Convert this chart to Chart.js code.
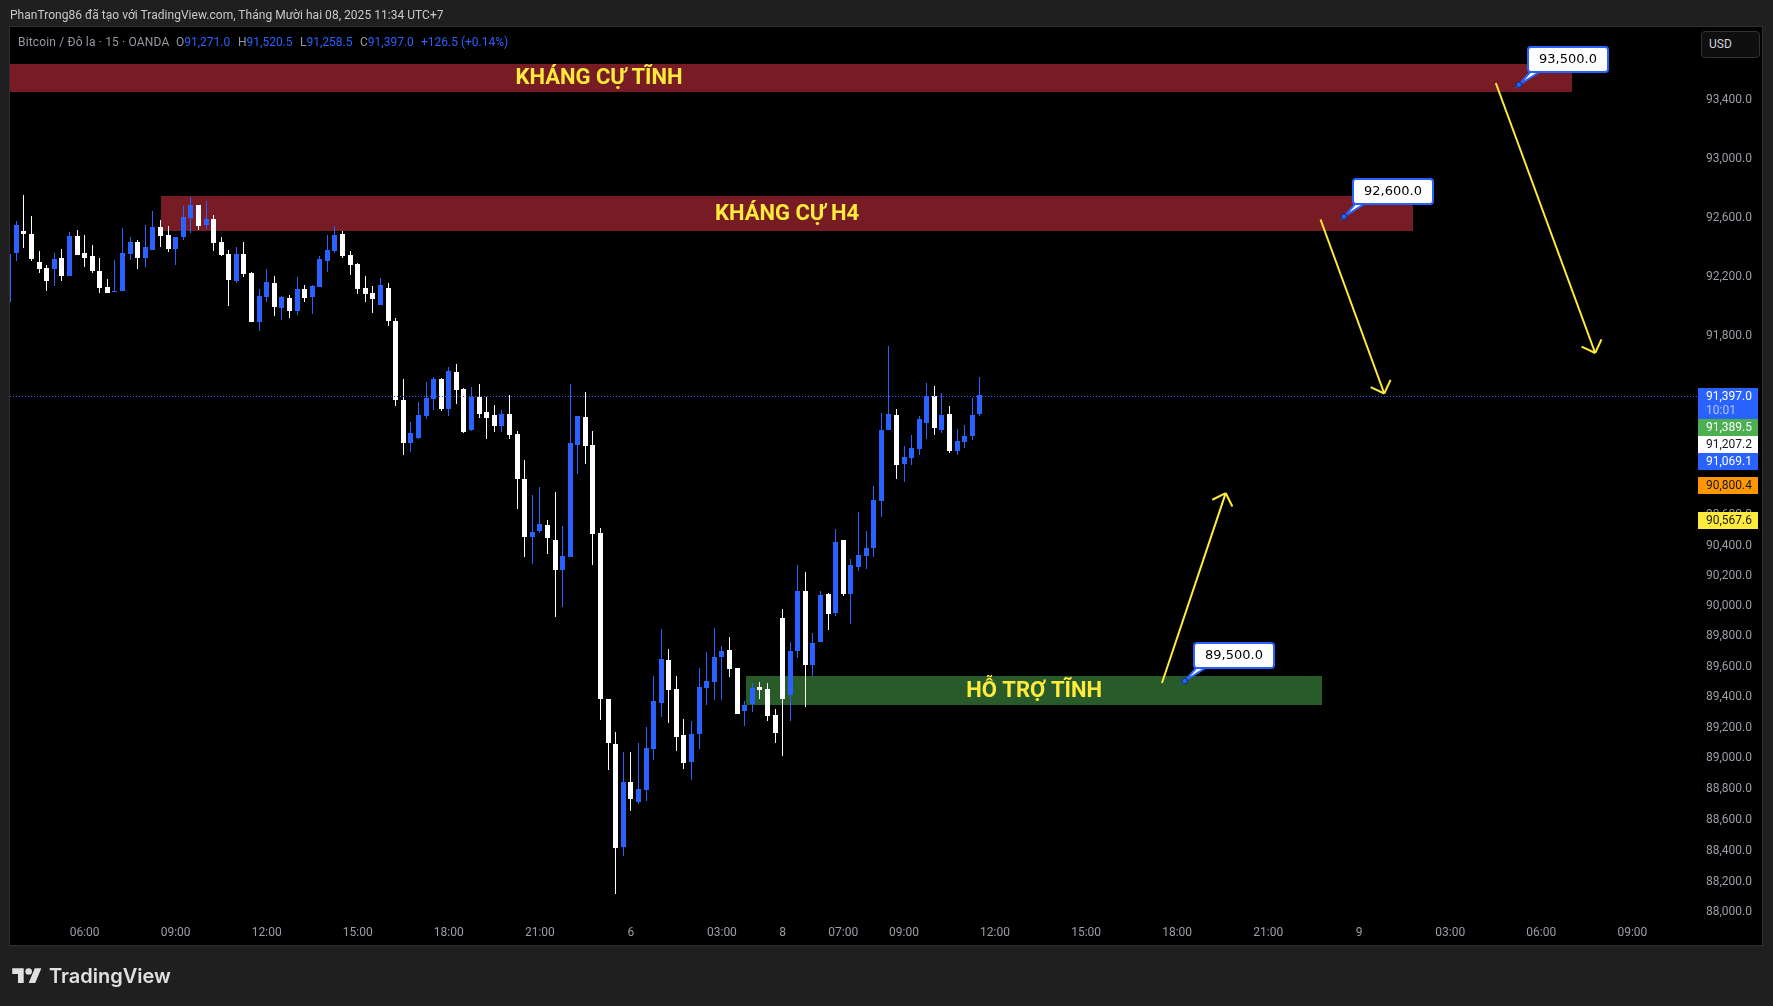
<!DOCTYPE html>
<html>
<head>
<meta charset="utf-8">
<script src="https://cdn.jsdelivr.net/npm/chart.js@4"></script>
<style>
  html, body { margin: 0; background: #1f1f1f; overflow: hidden; }
  #wrap { position: relative; width: 1773px; height: 1006px; }
  canvas { position: absolute; left: 0; top: 0; }
  .t { position: absolute; white-space: nowrap; font: 12px Roboto, sans-serif; line-height: 14px; }
  .g { color: #9598a1; }
  .b { color: #2962ff; }
</style>
</head>
<body>
<div id="wrap">
  <canvas id="chart" width="1773" height="1006"></canvas>
  <div class="t" style="left:10px;top:8px;color:#c9c9c9;letter-spacing:0.03px">PhanTrong86 đã tạo với TradingView.com, Tháng Mười hai 08, 2025 11:34 UTC+7</div>
  <div class="t g" style="left:18px;top:35px;letter-spacing:0.16px">Bitcoin / Đô la · 15 · OANDA</div>
  <div class="t g" style="left:176px;top:35px">O<span class="b">91,271.0</span></div>
  <div class="t g" style="left:238px;top:35px">H<span class="b">91,520.5</span></div>
  <div class="t g" style="left:300px;top:35px">L<span class="b">91,258.5</span></div>
  <div class="t g" style="left:360px;top:35px">C<span class="b">91,397.0</span></div>
  <div class="t b" style="left:421px;top:35px">+126.5 (+0.14%)</div>
  <div class="t" style="left:1701px;top:31px;width:57px;height:25px;line-height:25px;border:1px solid #333;border-radius:4px;background:#0f0f0f;color:#d1d4dc;text-indent:7px">USD</div>
  <svg style="position:absolute;left:12px;top:965px" width="30" height="23" viewBox="0 0 36 28"><path fill="#e0e0e0" d="M14 22H7V11H0V4h14v18zM28 22h-8l7.5-18h8L28 22z"/><circle fill="#e0e0e0" cx="20" cy="8" r="4"/></svg>
  <div class="t" style="left:49px;top:962px;font:600 20px/28px Inter, sans-serif;color:#e0e0e0">TradingView</div>
</div>
<script>
const opens = [
  92022,92354,92503,92482,92293,92252,92245,92320,92198,92469,
  92354,92333,92232,92123,92089,92096,92347,92428,92320,92374,
  92530,92476,92381,92462,92591,92679,92544,92584,92428,92347,
  92164,92347,92218,91887,92055,92150,91981,92049,91961,92110,
  92055,92123,92299,92367,92482,92340,92279,92116,92082,92001,
  92116,91894,91363,91076,91109,91256,91370,91504,91303,91551,
  91437,91163,91383,91283,91263,91188,91269,91134,90835,90449,
  90489,90529,90429,90231,90317,91060,91249,91060,90476,89382,
  89088,88418,88840,88710,88788,89055,89356,89638,89447,89146,
  88970,89153,89454,89493,89658,89704,89585,89303,89349,89460,
  89447,89277,89914,89408,89697,90092,89605,89757,90072,89947,
  90430,90073,90251,90323,90377,90689,91163,91263,90936,90976,
  91036,91210,91389,91163,91270,91023,91083,91123,91271
];
const highs = [
  92360,92571,92747,92604,92367,92272,92354,92381,92496,92510,
  92476,92408,92320,92177,92306,92523,92462,92442,92544,92638,
  92577,92537,92462,92672,92733,92679,92706,92611,92462,92374,
  92394,92428,92225,92110,92245,92198,92062,92069,92191,92137,
  92137,92333,92476,92537,92503,92367,92286,92198,92130,92184,
  92150,91914,91504,91216,91350,91484,91518,91511,91585,91605,
  91444,91450,91470,91383,91329,91296,91396,91154,90962,90728,
  90782,90562,90748,90522,91470,91255,91417,91154,90509,89382,
  89166,89035,89035,89094,89199,89533,89842,89710,89533,89251,
  89238,89585,89691,89849,89730,89789,89585,89369,89487,89493,
  89487,89317,89974,89757,90263,90217,89816,90092,90079,90503,
  90430,90304,90616,90490,90789,91274,91725,91303,91056,91130,
  91256,91477,91457,91410,91323,91170,91196,91376,91520.5
];
const lows = [
  92010,92299,92388,92299,92218,92096,92130,92164,92198,92340,
  92259,92218,92082,92082,92089,92096,92306,92245,92259,92374,
  92394,92360,92272,92442,92489,92510,92516,92367,92333,91995,
  92150,92191,91887,91827,92022,91927,91901,91914,91934,92022,
  91941,92123,92225,92354,92320,92205,92076,92022,91948,92001,
  91860,91323,90996,91016,91102,91236,91296,91289,91256,91336,
  91142,91156,91243,91102,91149,91148,91101,90635,90317,90271,
  90476,90337,89922,89987,90317,90869,90936,90264,89244,88918,
  88114,88360,88652,88697,88716,88983,89264,89225,89041,88924,
  88853,89055,89343,89375,89375,89526,89284,89205,89297,89382,
  89238,89094,89009,89238,89651,89330,89533,89757,89835,89927,
  90059,89875,90224,90238,90317,90583,91163,90836,90815,90929,
  90996,91103,91130,91143,91009,90996,91043,91096,91258.5
];
const closes = [
  92347,92544,92482,92313,92245,92164,92313,92198,92469,92340,
  92320,92232,92116,92082,92096,92354,92428,92320,92394,92530,
  92469,92381,92462,92598,92679,92537,92584,92421,92340,92171,
  92347,92211,91887,92062,92157,91988,92055,91961,92110,92049,
  92130,92313,92374,92476,92333,92272,92110,92076,92042,92137,
  91894,91363,91076,91142,91263,91376,91504,91303,91558,91430,
  91149,91383,91270,91243,91189,91269,91128,90835,90449,90482,
  90535,90442,90231,90323,91074,91255,91054,90469,89382,89094,
  88412,88840,88729,88794,89062,89369,89645,89441,89133,88963,
  89153,89460,89500,89658,89697,89579,89284,89343,89454,89441,
  89271,89160,89382,89697,90092,89605,89750,90066,89941,90417,
  90073,90264,90330,90377,90695,91163,91270,90929,90982,91043,
  91236,91389,91176,91263,91023,91089,91123,91263,91397
];

const xTickBars = [10,22,34,46,58,70,82,94,102,110,118,130,142,154,166,178,190,202,214];
const xTickLabels = ["06:00","09:00","12:00","15:00","18:00","21:00","6","03:00","8","07:00","09:00","12:00","15:00","18:00","21:00","9","03:00","06:00","09:00"];
const priceTicks = [93400,93000,92600,92200,91800,90600,90400,90200,90000,89800,89600,89400,89200,89000,88800,88600,88400,88200,88000];

const lastPrice = 91397;

// zones: bar range and price range
const zoneStart = [-50.4, 20.07, 97.2];
const zoneEnd = [206, 185.1, 173.1];
const zoneTop = [93642, 92740, 89533];
const zoneBottom = [93450, 92503, 89342];
const zoneLabels = ["KHÁNG CỰ TĨNH", "KHÁNG CỰ H4", "HỖ TRỢ TĨNH"];
const zoneColors = ["#771c25", "#771c25", "#295a2a"];

const arrowFromBar = [196, 172.9, 152];
const arrowFromPrice = [93512, 92581, 89487];
const arrowToBar = [209.1, 181.3, 160.4];
const arrowToPrice = [91679, 91407, 90742];

const noteBars = [199.06, 176, 155];
const notePrices = [93500, 92600, 89500];

const sideTags = [
  ["91,389.5", "#4caf50", "#ffffff", 419],
  ["91,207.2", "#ffffff", "#131722", 436],
  ["91,069.1", "#2962ff", "#ffffff", 453],
  ["90,800.4", "#ff9800", "#131722", 477],
  ["90,567.6", "#ffeb3b", "#131722", 512],
];

const BLUE = "#2962ff";
const XMIN = 0.165;
const XMAX = 222.52;

const priceText = (v) => v.toLocaleString("en-US", { minimumFractionDigits: 1, maximumFractionDigits: 1 });

const zonesPlugin = {
  id: "zones",
  beforeDatasetsDraw(chart) {
    const { ctx, chartArea: a, scales: { x, y } } = chart;
    ctx.save();
    ctx.beginPath();
    ctx.rect(a.left, a.top, a.right - a.left, a.bottom - a.top);
    ctx.clip();
    zoneStart.forEach((s, i) => {
      const x1 = Math.round(x.getPixelForValue(s));
      const x2 = Math.round(x.getPixelForValue(zoneEnd[i]));
      const y1 = Math.round(y.getPixelForValue(zoneTop[i]));
      const y2 = Math.round(y.getPixelForValue(zoneBottom[i]));
      ctx.fillStyle = zoneColors[i];
      ctx.fillRect(x1, y1, x2 - x1, y2 - y1);
    });
    ctx.restore();
  },
  afterDatasetsDraw(chart) {
    const { ctx, scales: { x, y } } = chart;
    ctx.save();
    ctx.font = "bold 22px Roboto";
    ctx.fillStyle = "#ffeb3b";
    ctx.textAlign = "center";
    ctx.textBaseline = "middle";
    zoneStart.forEach((s, i) => {
      const cx = (x.getPixelForValue(s) + x.getPixelForValue(zoneEnd[i])) / 2;
      const cy = (y.getPixelForValue(zoneTop[i]) + y.getPixelForValue(zoneBottom[i])) / 2;
      ctx.fillText(zoneLabels[i], cx, cy + 0.5);
    });
    ctx.restore();
  }
};

const arrowsPlugin = {
  id: "arrows",
  afterDatasetsDraw(chart) {
    const { ctx, scales: { x, y } } = chart;
    ctx.save();
    ctx.strokeStyle = "#ffeb3b";
    ctx.lineWidth = 2;
    arrowToBar.forEach((b, i) => {
      const tx = x.getPixelForValue(b);
      const ty = y.getPixelForValue(arrowToPrice[i]);
      const ang = Math.atan2(ty - y.getPixelForValue(arrowFromPrice[i]), tx - x.getPixelForValue(arrowFromBar[i]));
      [-Math.PI / 4, Math.PI / 4].forEach((d) => {
        ctx.beginPath();
        ctx.moveTo(tx, ty);
        ctx.lineTo(tx - 15 * Math.cos(ang + d), ty - 15 * Math.sin(ang + d));
        ctx.stroke();
      });
    });
    ctx.restore();
  }
};

const notesPlugin = {
  id: "notes",
  afterDatasetsDraw(chart) {
    const { ctx, scales: { x, y } } = chart;
    ctx.save();
    noteBars.forEach((b, i) => {
      const ax = x.getPixelForValue(b);
      const ay = y.getPixelForValue(notePrices[i]);
      const left = Math.round(ax + 9);
      const top = Math.round(ay - 38);
      ctx.lineWidth = 2;
      ctx.strokeStyle = BLUE;
      ctx.fillStyle = "#ffffff";
      ctx.beginPath();
      ctx.moveTo(ax, ay);
      ctx.lineTo(left + 3, top + 24);
      ctx.lineTo(left + 13, top + 24);
      ctx.closePath();
      ctx.fill();
      ctx.stroke();
      ctx.beginPath();
      ctx.roundRect(left, top, 80, 25, 3);
      ctx.fill();
      ctx.stroke();
      ctx.fillStyle = BLUE;
      ctx.strokeStyle = "#0a2a7a";
      ctx.lineWidth = 1;
      ctx.beginPath();
      ctx.arc(ax, ay, 2.8, 0, Math.PI * 2);
      ctx.fill();
      ctx.stroke();
      ctx.fillStyle = "#000000";
      ctx.font = "13px 'DejaVu Sans'";
      ctx.textAlign = "center";
      ctx.textBaseline = "middle";
      ctx.fillText(priceText(notePrices[i]), left + 40, top + 13);
    });
    ctx.restore();
  }
};

const panelPlugin = {
  id: "panel",
  beforeDraw(chart) {
    const { ctx, chartArea: a } = chart;
    ctx.save();
    ctx.fillStyle = "#000000";
    ctx.fillRect(a.left, a.top, 1762 - a.left, 945 - a.top);
    ctx.strokeStyle = "#2f2f2f";
    ctx.lineWidth = 1;
    ctx.strokeRect(a.left - 0.5, a.top - 0.5, 1763 - a.left, 946 - a.top);
    ctx.restore();
  },
  afterDraw(chart) {
    const { ctx } = chart;
    ctx.save();
    ctx.textBaseline = "middle";
    ctx.font = "12px Roboto";
    ctx.fillStyle = BLUE;
    ctx.fillRect(1698, 388, 60, 31);
    ctx.fillStyle = "#ffffff";
    ctx.fillText(priceText(lastPrice), 1706, 397);
    ctx.fillStyle = "#b4c6ff";
    ctx.fillText("10:01", 1706, 411);
    sideTags.forEach(([text, bg, fg, top]) => {
      ctx.fillStyle = bg;
      ctx.fillRect(1698, top, 60, 17);
      ctx.fillStyle = fg;
      ctx.fillText(text, 1706, top + 9);
    });
    ctx.restore();
  }
};

// candles and the price line land on whole pixels like the original
const snapPlugin = {
  id: "snap",
  afterDatasetsUpdate(chart) {
    chart.data.datasets.forEach((ds, i) => {
      const els = chart.getDatasetMeta(i).data;
      if (ds.borderDash) {
        els.forEach((el) => { el.y = Math.ceil(el.y) + 1.5; });
      }
      if (ds.type === "line") return;
      els.forEach((el) => {
        el.x = Math.floor(el.x) + 0.5;
        el.y = Math.round(el.y);
        el.base = Math.round(el.base);
      });
    });
  }
};

const barColors = closes.map((c, i) => (c >= opens[i] ? BLUE : "#ffffff"));

const arrowSets = arrowToBar.map((b, i) => ({
  type: "line",
  data: [{ x: arrowFromBar[i], y: arrowFromPrice[i] }, { x: b, y: arrowToPrice[i] }],
  borderColor: "#ffeb3b",
  borderWidth: 2,
  pointRadius: 0,
  order: 0
}));

new Chart(document.getElementById("chart"), {
  type: "bar",
  data: {
    datasets: [
      {
        data: highs.map((h, i) => ({ x: i, y: [lows[i], h] })),
        backgroundColor: barColors,
        barThickness: 1,
        grouped: false,
        inflateAmount: 0,
        order: 3
      },
      {
        data: opens.map((o, i) => ({ x: i, y: [o, closes[i]] })),
        backgroundColor: barColors,
        barThickness: 5,
        grouped: false,
        inflateAmount: 0,
        order: 2
      },
      {
        type: "line",
        data: [{ x: XMIN, y: lastPrice }, { x: XMAX, y: lastPrice }],
        borderColor: BLUE,
        borderWidth: 1,
        borderDash: [1, 2],
        pointRadius: 0,
        order: 1
      },
      ...arrowSets
    ]
  },
  options: {
    responsive: false,
    devicePixelRatio: 1,
    animation: false,
    events: [],
    layout: { padding: { left: 10, right: 10, top: 27, bottom: 61 } },
    plugins: { legend: { display: false }, tooltip: { enabled: false }, title: { display: false } },
    scales: {
      x: {
        type: "linear",
        offset: false,
        min: XMIN,
        max: XMAX,
        bounds: "data",
        grid: { display: false, drawTicks: false },
        border: { display: false },
        afterFit: (s) => { s.height = 25; },
        afterBuildTicks: (s) => { s.ticks = xTickBars.map((v) => ({ value: v })); },
        ticks: {
          autoSkip: false,
          maxRotation: 0,
          padding: 6,
          color: "#9b9ea6",
          font: { family: "Roboto", size: 12 },
          callback: (v) => xTickLabels[xTickBars.indexOf(v)]
        }
      },
      y: {
        type: "logarithmic",
        position: "right",
        min: 87945,
        max: 93897,
        bounds: "data",
        grid: { display: false, drawTicks: false },
        border: { display: false },
        afterFit: (s) => { s.width = 66; },
        afterBuildTicks: (s) => { s.ticks = priceTicks.map((v) => ({ value: v })); },
        ticks: {
          autoSkip: false,
          padding: 9,
          labelOffset: 1,
          color: "#9b9ea6",
          font: { family: "Roboto", size: 12 },
          callback: (v) => priceText(v)
        }
      }
    }
  },
  plugins: [panelPlugin, snapPlugin, zonesPlugin, arrowsPlugin, notesPlugin]
});
</script>
</body>
</html>
